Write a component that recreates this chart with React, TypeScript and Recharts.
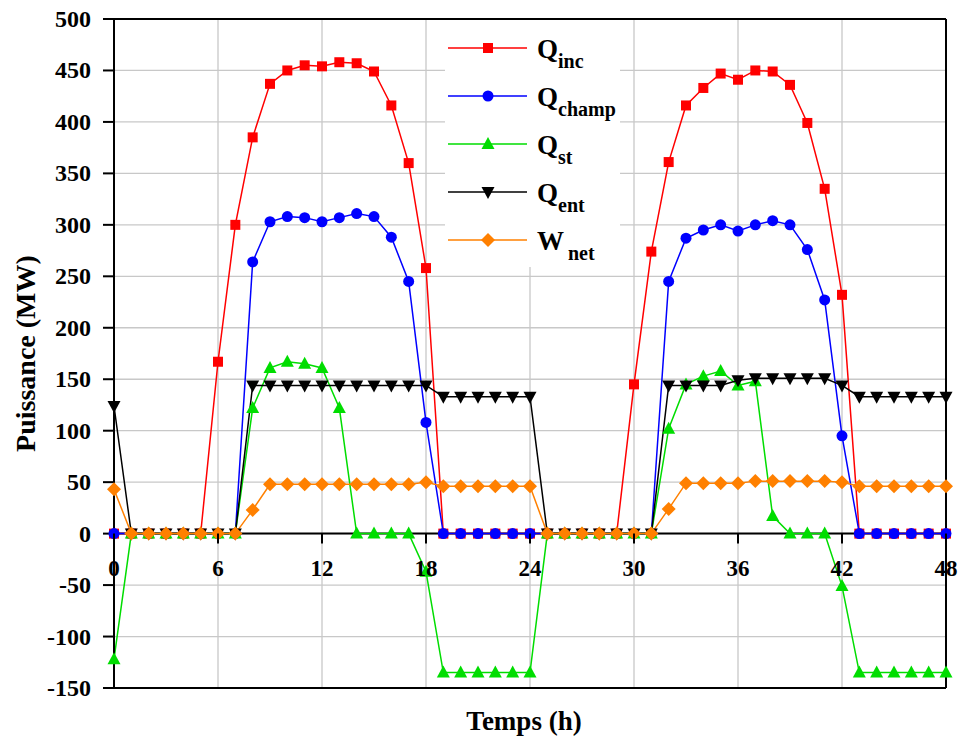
import React from "react";
import {
  LineChart,
  Line,
  XAxis,
  YAxis,
  CartesianGrid,
  ReferenceLine,
  Legend,
} from "recharts";

const FONT = "Liberation Serif, DejaVu Serif, serif";

// hours 0..48
const HOURS = [
  0, 1, 2, 3, 4, 5, 6, 7, 8, 9, 10, 11, 12, 13, 14, 15, 16, 17, 18, 19, 20, 21, 22, 23, 24,
  25, 26, 27, 28, 29, 30, 31, 32, 33, 34, 35, 36, 37, 38, 39, 40, 41, 42, 43, 44, 45, 46, 47, 48,
];

const Q_INC = [
  0, 0, 0, 0, 0, 0, 167, 300, 385, 437, 450, 455, 454, 458, 457, 449, 416, 360, 258, 0, 0, 0, 0, 0, 0,
  0, 0, 0, 0, 0, 145, 274, 361, 416, 433, 447, 441, 450, 449, 436, 399, 335, 232, 0, 0, 0, 0, 0, 0,
];
const Q_CHAMP = [
  0, 0, 0, 0, 0, 0, 0, 0, 264, 303, 308, 307, 303, 307, 311, 308, 288, 245, 108, 0, 0, 0, 0, 0, 0,
  0, 0, 0, 0, 0, 0, 0, 245, 287, 295, 300, 294, 300, 304, 300, 276, 227, 95, 0, 0, 0, 0, 0, 0,
];
const Q_ST = [
  -122, 0, 0, 0, 0, 0, 0, 0, 122, 161, 167, 165, 161, 122, 0, 0, 0, 0, -37, -135, -135, -135, -135, -135, -135,
  0, 0, 0, 0, 0, 0, 0, 102, 145, 153, 158, 144, 148, 17, 0, 0, 0, -51, -135, -135, -135, -135, -135, -135,
];
const Q_ENT = [
  124, 0, 0, 0, 0, 0, 0, 0, 144, 144, 144, 144, 144, 144, 144, 144, 144, 144, 144, 133, 133, 133, 133, 133, 133,
  0, 0, 0, 0, 0, 0, 0, 144, 144, 144, 144, 149, 151, 151, 151, 151, 151, 144, 133, 133, 133, 133, 133, 133,
];
const W_NET = [
  43, 0, 0, 0, 0, 0, 0, 0, 23, 48, 48, 48, 48, 48, 48, 48, 48, 48, 50, 46, 46, 46, 46, 46, 46,
  0, 0, 0, 0, 0, 0, 0, 24, 49, 49, 49, 49, 51, 51, 51, 51, 51, 50, 46, 46, 46, 46, 46, 46,
];

const X_TICKS = [0, 6, 12, 18, 24, 30, 36, 42, 48];
const X_MINOR = [3, 9, 15, 21, 27, 33, 39, 45];
const Y_TICKS = [-150, -100, -50, 0, 50, 100, 150, 200, 250, 300, 350, 400, 450, 500];
const GRID_X = [6, 12, 18, 24, 30, 36, 42];

const data = HOURS.map((h, i) => ({
  hour: h,
  qInc: Q_INC[i],
  qChamp: Q_CHAMP[i],
  qSt: Q_ST[i],
  qEnt: Q_ENT[i],
  wNet: W_NET[i],
}));

// layout
const W = 958;
const H = 736;
const TOP = 19;
const PLOT_H = 669;
const Y_MIN = -150;
const Y_MAX = 500;
const ZERO_Y = TOP + (PLOT_H * Y_MAX) / (Y_MAX - Y_MIN);

const txt = { fontFamily: FONT, fontWeight: "bold" as const };

type Shape = "square" | "circle" | "up" | "down" | "diamond";

const marker = (shape: Shape, cx: number, cy: number, color: string, key?: string) => {
  switch (shape) {
    case "square":
      return <rect key={key} x={cx - 5} y={cy - 5} width={10} height={10} fill={color} />;
    case "circle":
      return <circle key={key} cx={cx} cy={cy} r={5.5} fill={color} />;
    case "up":
      return (
        <path key={key} d={`M${cx},${cy - 7}L${cx + 6.5},${cy + 5}L${cx - 6.5},${cy + 5}Z`} fill={color} />
      );
    case "down":
      return (
        <path key={key} d={`M${cx},${cy + 7}L${cx + 6.5},${cy - 5}L${cx - 6.5},${cy - 5}Z`} fill={color} />
      );
    default:
      return (
        <path key={key} d={`M${cx},${cy - 7}L${cx + 7},${cy}L${cx},${cy + 7}L${cx - 7},${cy}Z`} fill={color} />
      );
  }
};

const SERIES: { key: string; main: string; sub: string; color: string; shape: Shape; subGap: number }[] = [
  { key: "qInc", main: "Q", sub: "inc", color: "#FF0000", shape: "square", subGap: 0 },
  { key: "qChamp", main: "Q", sub: "champ", color: "#0000FF", shape: "circle", subGap: 0 },
  { key: "qSt", main: "Q", sub: "st", color: "#00DD00", shape: "up", subGap: 0 },
  { key: "qEnt", main: "Q", sub: "ent", color: "#000000", shape: "down", subGap: 0 },
  { key: "wNet", main: "W", sub: "net", color: "#FF8000", shape: "diamond", subGap: 4 },
];

const XTick = (props: any) => {
  const { x, payload } = props;
  return (
    <g>
      <line x1={x} x2={x} y1={ZERO_Y} y2={ZERO_Y + 10} stroke="#000" strokeWidth={2} />
      <text x={x} y={ZERO_Y + 42} textAnchor="middle" style={{ ...txt, fontSize: 23 }} fill="#000">
        {payload.value}
      </text>
    </g>
  );
};

const MinorTick = (props: any) => {
  const { x } = props;
  return <line x1={x} x2={x} y1={ZERO_Y} y2={ZERO_Y + 6} stroke="#000" strokeWidth={2} />;
};

const YTick = (props: any) => {
  const { x, y, payload } = props;
  return (
    <text x={x} y={y + 8} textAnchor="end" style={{ ...txt, fontSize: 24 }} fill="#000">
      {payload.value}
    </text>
  );
};

const XTitle = (props: any) => {
  const vb = props.viewBox || { x: 114, y: 688, width: 832, height: 48 };
  return (
    <text x={vb.x + vb.width / 2 - 6} y={vb.y + 42} textAnchor="middle" style={{ ...txt, fontSize: 27 }} fill="#000">
      Temps (h)
    </text>
  );
};

const YTitle = (props: any) => {
  const vb = props.viewBox || { x: 0, y: TOP, height: PLOT_H };
  const cx = vb.x + 35;
  const cy = vb.y + vb.height / 2;
  return (
    <text
      x={cx}
      y={cy}
      transform={`rotate(-90 ${cx} ${cy})`}
      textAnchor="middle"
      style={{ ...txt, fontSize: 28 }}
      fill="#000"
    >
      Puissance (MW)
    </text>
  );
};

const LegendBox = () => (
  <svg width={175} height={247} style={{ display: "block" }}>
    {SERIES.map((s, i) => {
      const y = 28 + i * 48;
      return (
        <g key={s.key}>
          <line x1={3} x2={82} y1={y} y2={y} stroke={s.color} strokeWidth={1.5} />
          {marker(s.shape, 43, y, s.color)}
          <text x={92} y={y + 9.5} style={{ ...txt, fontSize: 27 }} fill="#000">
            {s.main}
            <tspan dx={s.subGap} dy={10} style={{ fontSize: 20 }}>
              {s.sub}
            </tspan>
          </text>
        </g>
      );
    })}
  </svg>
);

export default function App() {
  return (
    <div style={{ position: "absolute", left: 0, top: 0, width: W, height: H, background: "#fff" }}>
      <LineChart width={W} height={H} data={data} margin={{ top: TOP, right: 12, left: 0, bottom: 0 }}>
        <CartesianGrid stroke="#c8c8c8" strokeWidth={1.3} vertical={false} />
        {GRID_X.map((g) => (
          <ReferenceLine key={g} x={g} stroke="#c8c8c8" strokeWidth={1.3} />
        ))}
        <XAxis
          dataKey="hour"
          type="number"
          domain={[0, 48]}
          ticks={X_TICKS}
          interval={0}
          height={48}
          axisLine={false}
          tickLine={false}
          tick={XTick}
          label={XTitle}
        />
        <XAxis
          xAxisId="minor"
          dataKey="hour"
          type="number"
          domain={[0, 48]}
          ticks={X_MINOR}
          interval={0}
          height={0}
          axisLine={false}
          tickLine={false}
          tick={MinorTick}
        />
        <YAxis
          type="number"
          domain={[Y_MIN, Y_MAX]}
          ticks={Y_TICKS}
          interval={0}
          width={114}
          axisLine={{ stroke: "#000", strokeWidth: 2 }}
          tickLine={{ stroke: "#000", strokeWidth: 2 }}
          tickSize={11}
          tickMargin={12}
          tick={YTick}
          label={YTitle}
        />
        <ReferenceLine y={0} stroke="#000" strokeWidth={2} />
        <ReferenceLine y={Y_MAX} stroke="#000" strokeWidth={2} />
        <ReferenceLine y={Y_MIN} stroke="#000" strokeWidth={2} />
        <ReferenceLine x={48} stroke="#000" strokeWidth={2} />
        {SERIES.map((s) => (
          <Line
            key={s.key}
            type="linear"
            dataKey={s.key}
            stroke={s.color}
            strokeWidth={1.5}
            dot={(p: any) => marker(s.shape, p.cx, p.cy, s.color, `${s.key}-${p.index}`)}
            activeDot={false}
            isAnimationActive={false}
          />
        ))}
        <Legend
          layout="vertical"
          align="center"
          verticalAlign="middle"
          wrapperStyle={{ position: "absolute", left: 445, top: 20, width: 175, height: 247, background: "#fff" }}
          content={() => <LegendBox />}
        />
      </LineChart>
    </div>
  );
}
